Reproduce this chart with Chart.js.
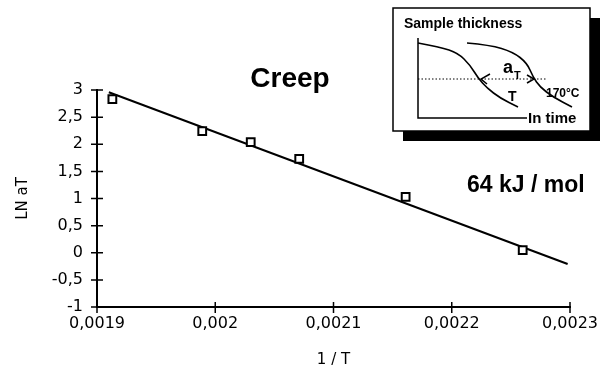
<!DOCTYPE html>
<html>
<head>
<meta charset="utf-8">
<script src="https://cdn.jsdelivr.net/npm/chart.js@4.4.1/dist/chart.umd.min.js"></script>
<style>
    html, body { margin: 0; padding: 0; background: #fff; }
    #wrap { width: 607px; height: 377px; }
</style>
</head>
<body>
<div id="wrap"><canvas id="creepChart"></canvas></div>
<script>
    // measured points (1/T, LN aT)
    const invT = [0.001913, 0.001989, 0.00203, 0.002071, 0.002161, 0.00226];
    const lnAT = [2.83, 2.24, 2.04, 1.73, 1.03, 0.05];

    // fitted line end points
    const fitX = [0.00191, 0.002298];
    const fitY = [2.958, -0.207];

    const xTickValues = [0.0019, 0.002, 0.0021, 0.0022, 0.0023];
    const yTickValues = [-1, -0.5, 0, 0.5, 1, 1.5, 2, 2.5, 3];

    const chartTitle = "Creep";
    const energyLabel = "64 kJ / mol";

    const fmt = v => String(Number(v.toPrecision(6))).replace(".", ",");

    // crossing tick marks, titles and the little sketch in the corner
    const decor = {
        id: "decor",
        afterDraw(chart) {
            const ctx = chart.ctx;
            const xs = chart.scales.x, ys = chart.scales.y;
            ctx.save();
            ctx.strokeStyle = "#000";
            ctx.lineWidth = 1.5;
            ctx.beginPath();
            yTickValues.forEach(v => {
                const py = ys.getPixelForValue(v);
                ctx.moveTo(xs.left - 6, py);
                ctx.lineTo(xs.left + 6, py);
            });
            xTickValues.forEach(v => {
                const px = xs.getPixelForValue(v);
                ctx.moveTo(px, ys.bottom - 5);
                ctx.lineTo(px, ys.bottom + 6);
            });
            ctx.stroke();

            ctx.fillStyle = "#000";
            ctx.font = "bold 28px 'Liberation Sans', Arial, sans-serif";
            ctx.textAlign = "center";
            ctx.textBaseline = "alphabetic";
            ctx.fillText(chartTitle, 290, 87);

            ctx.font = "bold 23px 'Liberation Sans', Arial, sans-serif";
            ctx.textAlign = "left";
            ctx.fillText(energyLabel, 467, 192);

            // inset sketch
            const bx = 393, by = 8, bw = 197, bh = 123;
            ctx.translate(bx, by);
            ctx.fillRect(10, 10, bw, bh);
            ctx.fillStyle = "#fff";
            ctx.fillRect(0, 0, bw, bh);
            ctx.lineWidth = 1.5;
            ctx.strokeRect(0, 0, bw, bh);

            ctx.fillStyle = "#000";
            ctx.font = "bold 14px 'Liberation Sans', Arial, sans-serif";
            ctx.fillText("Sample thickness", 11, 20);

            ctx.beginPath();
            ctx.moveTo(25, 30);
            ctx.lineTo(25, 110);
            ctx.lineTo(134, 110);
            ctx.stroke();
            ctx.textBaseline = "middle";
            ctx.font = "bold 15px 'Liberation Sans', Arial, sans-serif";
            ctx.fillText("In time", 135, 111);

            const curve = pts => {
                ctx.beginPath();
                ctx.moveTo(pts[0][0], pts[0][1]);
                for (let i = 1; i < pts.length - 1; i++) {
                    const mx = (pts[i][0] + pts[i + 1][0]) / 2;
                    const my = (pts[i][1] + pts[i + 1][1]) / 2;
                    ctx.quadraticCurveTo(pts[i][0], pts[i][1], mx, my);
                }
                const last = pts[pts.length - 1];
                ctx.lineTo(last[0], last[1]);
                ctx.stroke();
            };
            ctx.lineWidth = 1.6;
            curve([[25, 35], [47, 39], [65, 45], [77, 57], [85, 70], [94, 80], [107, 90], [125, 99]]);
            curve([[74, 35], [97, 37], [120, 44], [134, 55], [140, 69], [147, 79], [160, 89], [179, 99]]);

            ctx.lineWidth = 1;
            ctx.setLineDash([1.5, 2]);
            ctx.beginPath();
            ctx.moveTo(25, 71);
            ctx.lineTo(154, 71);
            ctx.stroke();
            ctx.setLineDash([]);

            ctx.lineWidth = 1.5;
            ctx.beginPath();
            ctx.moveTo(97, 66);
            ctx.lineTo(88, 71);
            ctx.lineTo(94, 76);
            ctx.moveTo(134, 67);
            ctx.lineTo(141, 71);
            ctx.lineTo(134, 75);
            ctx.stroke();

            ctx.textBaseline = "alphabetic";
            ctx.font = "bold 18px 'Liberation Sans', Arial, sans-serif";
            ctx.fillText("a", 110, 65);
            ctx.font = "bold 11px 'Liberation Sans', Arial, sans-serif";
            ctx.fillText("T", 121, 71);
            ctx.font = "bold 14px 'Liberation Sans', Arial, sans-serif";
            ctx.fillText("T", 115, 93);
            ctx.font = "bold 12px 'Liberation Sans', Arial, sans-serif";
            ctx.fillText("170°C", 153, 89);
            ctx.restore();
        }
    };

    const tickFont = { family: "'DejaVu Sans', Verdana, sans-serif", size: 16 };

    new Chart(document.getElementById("creepChart"), {
        type: "scatter",
        data: {
            datasets: [
                {
                    label: "LN aT",
                    data: invT.map((x, i) => ({ x: x, y: lnAT[i] })),
                    pointStyle: "rect",
                    pointRadius: 5.5,
                    pointBorderWidth: 2,
                    pointBackgroundColor: "#fff",
                    pointBorderColor: "#000",
                    order: 1
                },
                {
                    type: "line",
                    label: "fit",
                    data: fitX.map((x, i) => ({ x: x, y: fitY[i] })),
                    borderColor: "#000",
                    borderWidth: 2,
                    pointRadius: 0,
                    fill: false,
                    order: 2
                }
            ]
        },
        options: {
            responsive: true,
            maintainAspectRatio: false,
            animation: false,
            layout: { padding: { left: 0, top: 90, right: 37, bottom: 0 } },
            plugins: {
                legend: { display: false },
                tooltip: { enabled: false }
            },
            scales: {
                x: {
                    type: "linear",
                    min: 0.0019,
                    max: 0.0023,
                    afterBuildTicks: s => { s.ticks = xTickValues.map(v => ({ value: v })); },
                    afterFit: s => { s.height = 70; },
                    grid: { display: false, drawTicks: false },
                    border: { display: true, color: "#000", width: 2 },
                    ticks: {
                        color: "#000",
                        font: tickFont,
                        padding: 7,
                        maxRotation: 0,
                        callback: v => fmt(v)
                    },
                    title: {
                        display: true,
                        text: "1 / T",
                        color: "#000",
                        font: { family: "'DejaVu Sans', Verdana, sans-serif", size: 15 },
                        padding: { top: 0, bottom: 8 }
                    }
                },
                y: {
                    type: "linear",
                    min: -1,
                    max: 3,
                    afterBuildTicks: s => { s.ticks = yTickValues.map(v => ({ value: v })); },
                    afterFit: s => { s.width = 97; },
                    grid: { display: false, drawTicks: false },
                    border: { display: true, color: "#000", width: 2 },
                    ticks: {
                        color: "#000",
                        font: tickFont,
                        padding: 14,
                        callback: v => fmt(v)
                    },
                    title: {
                        display: true,
                        text: "LN aT",
                        color: "#000",
                        font: { family: "'DejaVu Sans', Verdana, sans-serif", size: 15 },
                        padding: { top: 14, bottom: 0 }
                    }
                }
            }
        },
        plugins: [decor]
    });
</script>
</body>
</html>
